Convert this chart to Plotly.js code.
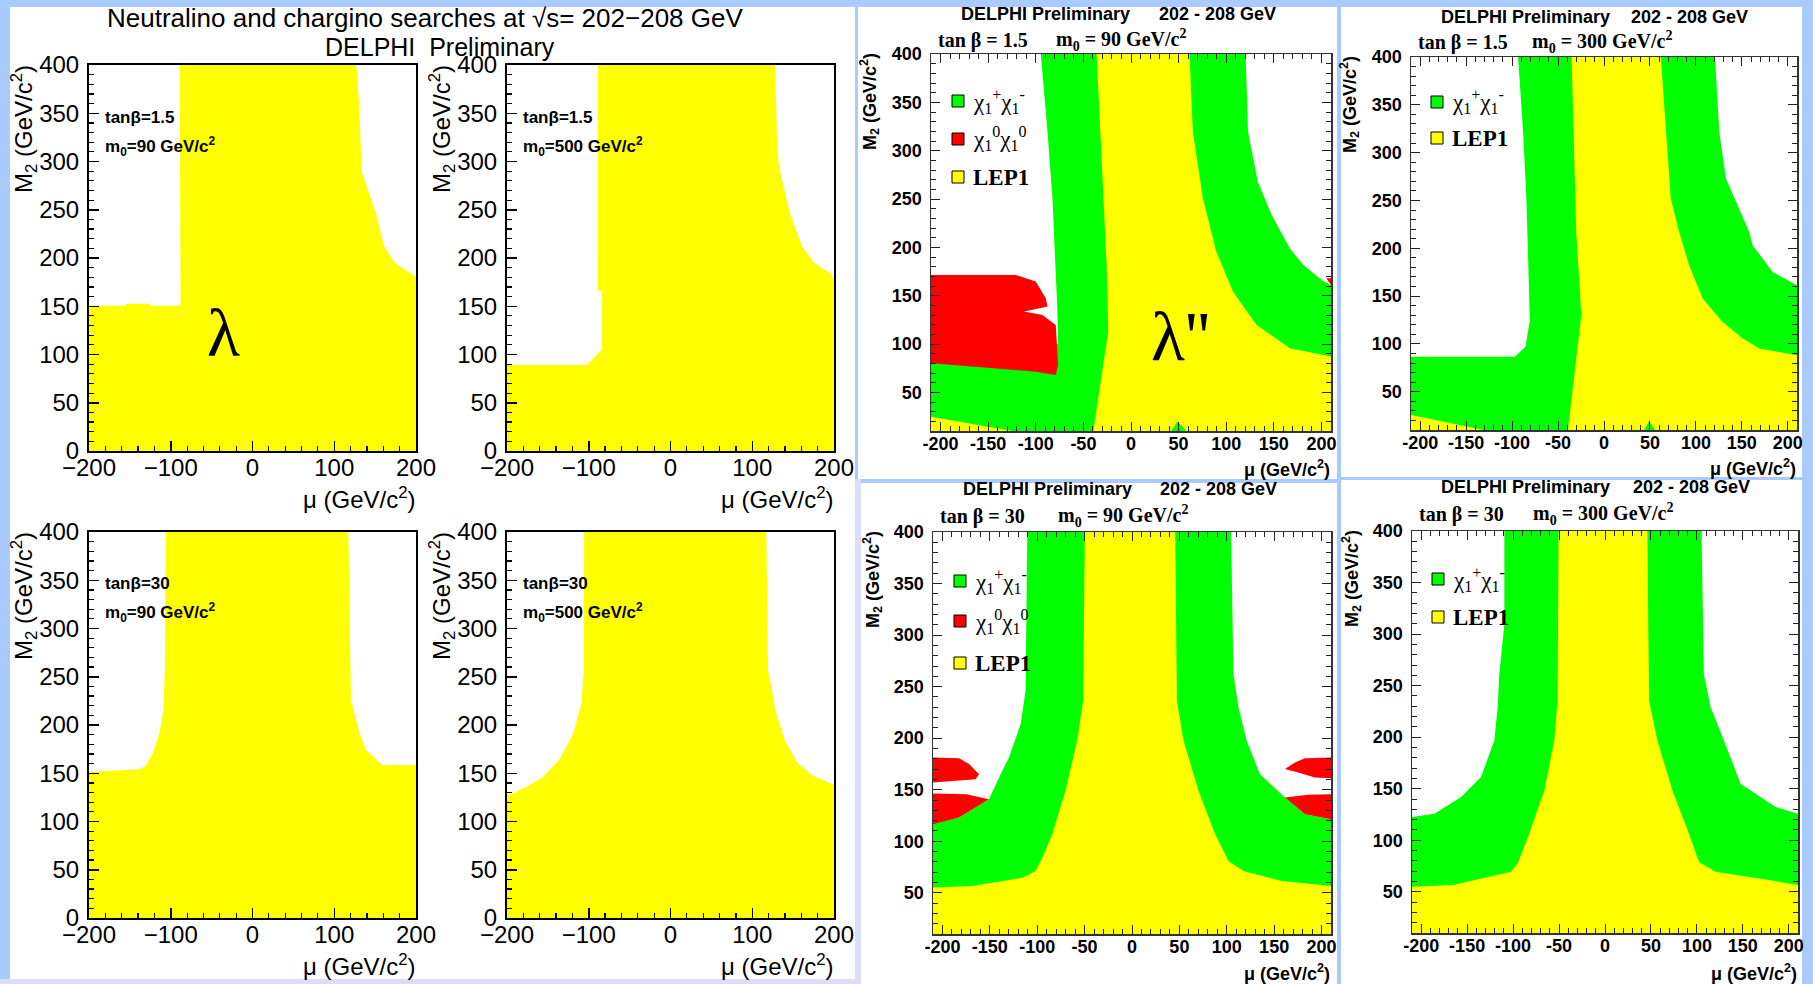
<!DOCTYPE html>
<html><head><meta charset="utf-8">
<script src="https://cdn.plot.ly/plotly-3.0.1.min.js"></script>
<style>html,body{margin:0;padding:0;background:#a9cbff;}#chart{width:1813px;height:984px;}</style>
</head><body><div id="chart"></div>
<script>
// ---------------- DATA (mu, M2 in GeV/c^2) ----------------
// Left block (lambda couplings) - excluded (yellow) regions
const p1Mu = [-89, -88, -88, -125, -125, -155, -155, -200, -200, 200, 200, 199, 174, 161, 151, 134, 130, 127];
const p1M2 = [400, 250, 150.5, 150.5, 152.5, 152.5, 150.5, 150.5, 0, 0, 180, 181, 195, 212, 246, 288, 364, 400];
const p2Mu = [-89, -88.8, -84, -84, -102, -200, -200, 200, 200, 196, 176, 161, 146, 132.6, 130, 128];
const p2M2 = [400, 167, 165, 105, 89, 89, 0, 0, 176, 184, 194.5, 212, 246, 294.6, 330, 400];
const p3Mu = [-106.2, -107, -109, -114, -122, -131, -141, -200, -200, 200, 200, 159, 139, 131, 120.5, 117.2];
const p3M2 = [400, 260, 215, 191, 171, 157, 154, 151.5, 0, 0, 158.5, 158.5, 174, 191, 226, 400];
const p4Mu = [-105.6, -106, -109, -119, -136, -156, -176, -190, -200, -200, 200, 200, 186, 173, 156, 139.5, 129.4, 119.3, 117.2];
const p4M2 = [400, 260, 222, 191, 164, 146, 136, 130, 127.5, 0, 0, 138, 143, 148, 160, 184.5, 212, 257, 400];

// Panel 5: tan b = 1.5, m0 = 90 (lambda'')
const p5GreenMu = [-94.7, -87.7, -82.5, -79, -77.5, -77, -77, -210, -210, 210, 210, 201.8, 180.7, 166.7, 147.4, 133, 122.8, 120.4];
const p5GreenM2 = [400, 320, 251, 182, 140, 121, 100, 100, 10, 10, 161, 165, 182, 199, 234, 268, 320, 400];
const p5YellowMu = [-36.1, -30.5, -25.6, -23.9, -29.1, -39.6, 210, 210, 166.7, 131.6, 107, 89.5, 75.4, 64.9, 61.4];
const p5YellowM2 = [400, 285, 182, 113, 78, 10, 10, 87, 95.7, 119.9, 154.4, 195.8, 251, 319.9, 400];
const p5YellowLowMu = [-210, -210, -124.6];
const p5YellowLowM2 = [10, 24.8, 10];
const p5SpikeMu = [42, 49, 58];
const p5SpikeM2 = [10, 19.7, 10];
const p5RedMu = [-210, -121, -100, -89.5, -87.7, -112.3, -93, -79, -76.5, -79, -100, -210];
const p5RedM2 = [171.5, 171.5, 164.6, 147.3, 138.7, 133.5, 130, 119.7, 78.3, 68, 71.4, 80];
const p5RedEdgeMu = [205, 210, 210];
const p5RedEdgeM2 = [168, 168, 161];

// Panel 6: tan b = 1.5, m0 = 300
const p6GreenMu = [-93.5, -88, -84.4, -82.5, -80.7, -85.5, -97, -210, -210, 210, 210, 183.6, 161.8, 158, 132.7, 125.5, 120.7];
const p6GreenM2 = [400, 321.4, 251.8, 182.3, 124.8, 97, 86.5, 86.5, 10, 10, 161.3, 175.2, 203, 217, 272.7, 321.4, 400];
const p6YellowMu = [-35.3, -30.2, -24.7, -30.9, -39.3, 210, 210, 169, 151, 129, 107.3, 92.7, 81.8, 72.7, 67.3, 61.8];
const p6YellowM2 = [400, 217, 130, 77.8, 10, 10, 88.2, 95.2, 105.6, 123, 147.4, 182.2, 217, 251.8, 321.4, 400];
const p6YellowLowMu = [-210, -210, -131];
const p6YellowLowM2 = [10, 25.6, 10];
const p6SpikeMu = [43.6, 49, 55.6];
const p6SpikeM2 = [10, 18.6, 10];

// Panel 7: tan b = 30, m0 = 90
const p7GreenMu = [-110.5, -112.3, -117.5, -129.8, -138.6, -150.9, -182.5, -207, -210, -210, 210, 210, 182.5, 161.4, 135, 121, 112.3, 107, 104.6];
const p7GreenM2 = [400, 246, 213.7, 181.3, 165, 140.8, 123, 118, 116.5, 10, 10, 121.3, 126.2, 142.4, 165, 197.5, 229.9, 262.3, 400];
const p7YellowMu = [-49.8, -51.6, -57.9, -70.2, -84.2, -94.7, -101.8, -115.8, -168.4, -210, -210, 210, 210, 157.9, 117.5, 101.8, 87.7, 70.2, 54.4, 47.4, 45.6];
const p7YellowM2 = [400, 236, 197.5, 149, 106.7, 84, 71, 64.6, 56.5, 55, 10, 10, 56.5, 61.4, 71, 80.8, 106.7, 149, 197.5, 236, 400];
const p7RedLeftTopMu = [-210, -182.5, -172, -161.4, -165, -186, -210];
const p7RedLeftTopM2 = [181.3, 180.6, 175, 165, 160.2, 158.6, 157];
const p7RedLeftLowMu = [-210, -175, -150.9, -182.5, -210];
const p7RedLeftLowM2 = [146.3, 145.6, 140.8, 123, 116.5];
const p7RedRightTopMu = [210, 182.5, 172, 161.4, 175.4, 193, 210];
const p7RedRightTopM2 = [181.3, 180.6, 176.4, 170, 166.7, 161.8, 161];
const p7RedRightLowMu = [210, 186, 161.4, 182.5, 210];
const p7RedRightLowM2 = [145.6, 145, 142.4, 126.2, 121.3];

// Panel 8: tan b = 30, m0 = 300
const p8GreenMu = [-109.5, -109.5, -115, -116.8, -120.4, -134.9, -156.6, -185.6, -210, -210, 210, 210, 185.5, 147.5, 129.4, 114.9, 107.6, 105];
const p8GreenM2 = [400, 309.7, 261, 229, 196.8, 161.3, 142, 125.8, 122.6, 10, 10, 125.8, 132.3, 154.8, 196.8, 229, 261, 400];
const p8YellowMu = [-50.5, -51.6, -55.2, -66, -82.4, -95, -102.2, -140, -165.4, -210, -210, 210, 210, 178.2, 120.3, 102.2, 91.3, 73.3, 57, 47.9, 46.1];
const p8YellowM2 = [400, 235.5, 196.8, 148.4, 106.5, 77.4, 69.4, 61.3, 56.5, 54.8, 10, 10, 56.5, 61.3, 69.4, 79, 106.5, 148.4, 196.8, 235.5, 400];

// Tick labels
const muTickVals = [-200, -150, -100, -50, 0, 50, 100, 150, 200];
const muTickText = ['-200', '-150', '-100', '-50', '0', '50', '100', '150', '200'];
const m2TickVals = [50, 100, 150, 200, 250, 300, 350, 400];
const m2TickText = ['50', '100', '150', '200', '250', '300', '350', '400'];

// ---------------- COLOURS ----------------
const YEL = '#ffff00', GRN = '#00ff00', RED = '#ff0000';

// ---------------- BUILD ----------------
const W = 1813, H = 984;
const px = v => v / W, py = v => 1 - v / H;
const traces = [];
function poly(k, xs, ys, color) {
  const s = k === 1 ? '' : String(k);
  traces.push({type: 'scatter', mode: 'lines', x: xs, y: ys, fill: 'toself', fillcolor: color,
    line: {width: 0, color: color}, xaxis: 'x' + s, yaxis: 'y' + s, hoverinfo: 'skip', showlegend: false});
}
poly(1, p1Mu, p1M2, YEL);
poly(2, p2Mu, p2M2, YEL);
poly(3, p3Mu, p3M2, YEL);
poly(4, p4Mu, p4M2, YEL);

poly(5, p5GreenMu, p5GreenM2, GRN);
poly(5, p5YellowMu, p5YellowM2, YEL);
poly(5, p5YellowLowMu, p5YellowLowM2, YEL);
poly(5, p5SpikeMu, p5SpikeM2, GRN);
poly(5, p5RedMu, p5RedM2, RED);
poly(5, p5RedEdgeMu, p5RedEdgeM2, RED);

poly(6, p6GreenMu, p6GreenM2, GRN);
poly(6, p6YellowMu, p6YellowM2, YEL);
poly(6, p6YellowLowMu, p6YellowLowM2, YEL);
poly(6, p6SpikeMu, p6SpikeM2, GRN);

poly(7, p7GreenMu, p7GreenM2, GRN);
poly(7, p7YellowMu, p7YellowM2, YEL);
poly(7, p7RedLeftTopMu, p7RedLeftTopM2, RED);
poly(7, p7RedLeftLowMu, p7RedLeftLowM2, RED);
poly(7, p7RedRightTopMu, p7RedRightTopM2, RED);
poly(7, p7RedRightLowMu, p7RedRightLowM2, RED);

poly(8, p8GreenMu, p8GreenM2, GRN);
poly(8, p8YellowMu, p8YellowM2, YEL);

const layout = {
  width: W, height: H, margin: {l: 0, r: 0, t: 0, b: 0},
  paper_bgcolor: '#a9cbff', plot_bgcolor: 'rgba(0,0,0,0)',
  showlegend: false, shapes: [], annotations: []
};

const SANS = 'Liberation Sans, Arial, sans-serif';
const SERIF = 'Liberation Serif, Times New Roman, serif';

function rootAxes(k, b) {
  const s = k === 1 ? '' : String(k);
  const common = {ticks: 'inside', ticklen: 10, tickwidth: 1.5, tickcolor: '#000',
    showline: true, linewidth: 2, linecolor: '#000', mirror: true, showgrid: false, zeroline: false,
    tickfont: {family: SANS, size: 24, color: '#000'}, fixedrange: true};
  layout['xaxis' + s] = Object.assign({}, common, {domain: [px(b[0]), px(b[2])], anchor: 'y' + s,
    range: [-200, 200], tickmode: 'linear', tick0: -200, dtick: 100, ticklabelstandoff: -6,
    minor: {tickmode: 'linear', tick0: -200, dtick: 20, ticks: 'inside', ticklen: 5, tickwidth: 1.2, tickcolor: '#000', showgrid: false}});
  layout['yaxis' + s] = Object.assign({}, common, {domain: [py(b[3]), py(b[1])], anchor: 'x' + s,
    range: [0, 400], tickmode: 'linear', tick0: 0, dtick: 50, ticklabelstandoff: 3,
    minor: {tickmode: 'linear', tick0: 0, dtick: 10, ticks: 'inside', ticklen: 5, tickwidth: 1.2, tickcolor: '#000', showgrid: false}});
}
function delphiAxes(k, b) {
  const s = String(k);
  const common = {ticks: 'inside', ticklen: 9, tickwidth: 1, tickcolor: '#222',
    showline: true, linewidth: 1.5, linecolor: '#333', mirror: 'ticks', showgrid: false, zeroline: false,
    tickfont: {family: SANS, size: 18, color: '#000', weight: 'bold'}, fixedrange: true};
  const minor = {tickmode: 'linear', tick0: 0, dtick: 10, ticks: 'inside', ticklen: 5, tickwidth: 1, tickcolor: '#222', showgrid: false};
  layout['xaxis' + s] = Object.assign({}, common, {domain: [px(b[0]), px(b[2])], anchor: 'y' + s,
    range: [-210, 210], tickmode: 'array', tickvals: muTickVals, ticktext: muTickText, minor: minor, ticklabelstandoff: -4});
  layout['yaxis' + s] = Object.assign({}, common, {domain: [py(b[3]), py(b[1])], anchor: 'x' + s,
    range: [10, 400], tickmode: 'array', tickvals: m2TickVals, ticktext: m2TickText, minor: minor, ticklabelstandoff: 4});
}
rootAxes(1, [89, 65, 416, 451]);
rootAxes(2, [507, 65, 834, 451]);
rootAxes(3, [89, 532, 416, 918]);
rootAxes(4, [507, 532, 834, 918]);
delphiAxes(5, [931, 54, 1331, 431]);
delphiAxes(6, [1411, 57, 1797, 430]);
delphiAxes(7, [933, 532, 1331, 934]);
delphiAxes(8, [1412, 531, 1798, 933]);

// background boxes
function rect(x0, y0, x1, y1, fill, line) {
  layout.shapes.push({type: 'rect', xref: 'paper', yref: 'paper', x0: px(x0), x1: px(x1), y0: py(y1), y1: py(y0),
    fillcolor: fill, line: line || {width: 0}, layer: 'below'});
}
rect(855, 479, 861, 984, '#dcdcfb');
rect(0, 979, 861, 984, '#dcdcfb');
rect(10, 7, 855, 979, '#ffffff');
rect(858, 7, 1337, 479, '#ffffff');
rect(1341, 7, 1802, 477, '#ffffff');
rect(861, 483, 1337, 984, '#ffffff');
rect(1341, 480, 1802, 984, '#ffffff');

function ann(text, x, y, o) {
  o = o || {};
  layout.annotations.push(Object.assign({text: text, xref: 'paper', yref: 'paper', x: px(x), y: py(y),
    showarrow: false, xanchor: o.xa || 'left', yanchor: 'middle',
    font: {family: o.fam || SANS, size: o.size || 18, color: '#000', weight: o.w || 'normal'}},
    o.angle !== undefined ? {textangle: o.angle} : {}));
}

// ----- left block texts -----
ann('Neutralino and chargino searches at √s= 202−208 GeV', 425, 18, {xa: 'center', size: 26});
ann('DELPHI  Preliminary', 440, 47, {xa: 'center', size: 25});
const rootPanels = [
  {x0: 89, x1: 416, y0: 65, y1: 451, tb: 'tanβ=1.5', m0: 'm<sub>0</sub>=90 GeV/c<sup>2</sup>', ty: 117},
  {x0: 507, x1: 834, y0: 65, y1: 451, tb: 'tanβ=1.5', m0: 'm<sub>0</sub>=500 GeV/c<sup>2</sup>', ty: 117},
  {x0: 89, x1: 416, y0: 532, y1: 918, tb: 'tanβ=30', m0: 'm<sub>0</sub>=90 GeV/c<sup>2</sup>', ty: 583},
  {x0: 507, x1: 834, y0: 532, y1: 918, tb: 'tanβ=30', m0: 'm<sub>0</sub>=500 GeV/c<sup>2</sup>', ty: 583}
];
rootPanels.forEach(p => {
  ann(p.tb, p.x0 + 14, p.ty, {size: 17, w: 'bold'});
  ann(p.m0, p.x0 + 14, p.ty + 29, {size: 17, w: 'bold'});
  ann('μ (GeV/c<sup>2</sup>)', p.x1 + 2, p.y1 + 47, {xa: 'right', size: 24});
  ann('M<sub>2</sub> (GeV/c<sup>2</sup>)', p.x0 - 65, p.y0 + 64, {xa: 'center', size: 24, angle: -90});
});
ann('λ', 223, 333, {xa: 'center', size: 68, fam: SERIF});

// ----- DELPHI panels texts -----
const dPanels = [
  {x0: 931, x1: 1331, y0: 54, y1: 431, t1: 959, t2: 1157, ty: 14, l1: 936, l2: 1054, ly: 40,
   tb: 'tan β = 1.5', m0: 'm<sub>0</sub> = 90 GeV/c<sup>2</sup>', bx: 952, leg: [101, 139, 177], red: true, ay: 468},
  {x0: 1411, x1: 1797, y0: 57, y1: 430, t1: 1439, t2: 1629, ty: 17, l1: 1416, l2: 1530, ly: 42,
   tb: 'tan β = 1.5', m0: 'm<sub>0</sub> = 300 GeV/c<sup>2</sup>', bx: 1431, leg: [102, 138], red: false, ay: 467},
  {x0: 933, x1: 1331, y0: 532, y1: 934, t1: 961, t2: 1158, ty: 489, l1: 938, l2: 1056, ly: 516,
   tb: 'tan β = 30', m0: 'm<sub>0</sub> = 90 GeV/c<sup>2</sup>', bx: 954, leg: [581, 621, 663], red: true, ay: 972},
  {x0: 1412, x1: 1798, y0: 531, y1: 933, t1: 1439, t2: 1631, ty: 487, l1: 1417, l2: 1531, ly: 514,
   tb: 'tan β = 30', m0: 'm<sub>0</sub> = 300 GeV/c<sup>2</sup>', bx: 1432, leg: [579, 617], red: false, ay: 972}
];
dPanels.forEach(p => {
  ann('DELPHI Preliminary', p.t1, p.ty, {size: 18, w: 'bold'});
  ann('202 - 208 GeV', p.t2, p.ty, {size: 18, w: 'bold'});
  ann(p.tb, p.l1, p.ly, {size: 20, w: 'bold', fam: SERIF});
  ann(p.m0, p.l2, p.ly, {size: 20, w: 'bold', fam: SERIF});
  ann('μ (GeV/c<sup>2</sup>)', p.x1 + 1, p.ay, {xa: 'right', size: 18, w: 'bold'});
  ann('M<sub>2</sub> (GeV/c<sup>2</sup>)', p.x0 - 61, p.y0 + 48, {xa: 'center', size: 18, w: 'bold', angle: -90});
  const items = p.red
    ? [[GRN, 'χ<sub>1</sub><sup>+</sup>χ<sub>1</sub><sup>-</sup>'], [RED, 'χ<sub>1</sub><sup>0</sup>χ<sub>1</sub><sup>0</sup>'], [YEL, '<b>LEP1</b>']]
    : [[GRN, 'χ<sub>1</sub><sup>+</sup>χ<sub>1</sub><sup>-</sup>'], [YEL, '<b>LEP1</b>']];
  items.forEach((it, i) => {
    const cy = p.leg[i];
    rect(p.bx, cy - 6, p.bx + 12, cy + 6, it[0], {width: 1, color: '#000'});
    layout.shapes[layout.shapes.length - 1].layer = 'above';
    ann(it[1], p.bx + 19, cy, {size: 23, fam: SERIF});
  });
});
ann("λ''", 1180, 336, {xa: 'center', size: 70, fam: SERIF});

Plotly.newPlot('chart', traces, layout, {staticPlot: true, displayModeBar: false});
</script></body></html>
